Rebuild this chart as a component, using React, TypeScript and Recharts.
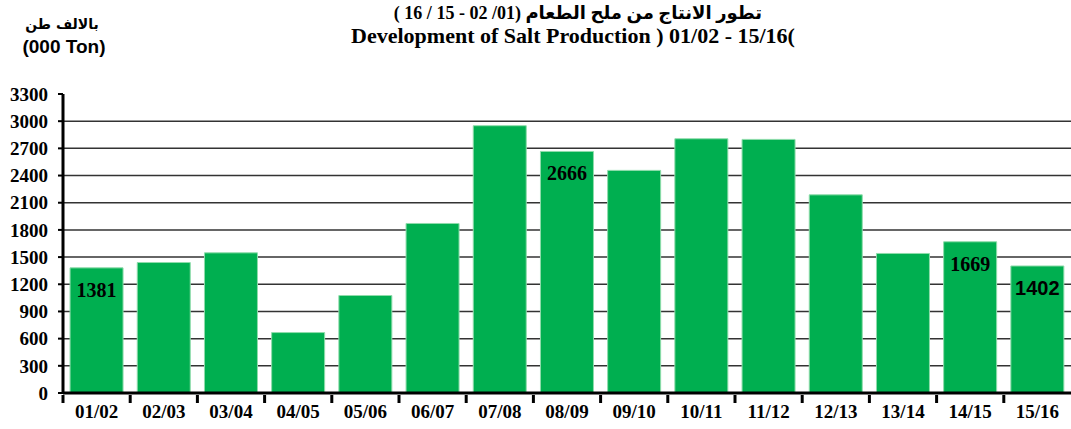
import React from 'react';
import { BarChart, Bar, XAxis, YAxis, CartesianGrid, LabelList } from 'recharts';

const periods = ['01/02', '02/03', '03/04', '04/05', '05/06', '06/07', '07/08', '08/09', '09/10', '10/11', '11/12', '12/13', '13/14', '14/15', '15/16'];
const production = [1381, 1440, 1547, 667, 1076, 1871, 2950, 2666, 2457, 2806, 2799, 2187, 1540, 1669, 1402];
const shownLabels = [1381, null, null, null, null, null, null, 2666, null, null, null, null, null, 1669, 1402];
const yTicks = [0, 300, 600, 900, 1200, 1500, 1800, 2100, 2400, 2700, 3000, 3300];
const gridValues = [300, 600, 900, 1200, 1500, 1800, 2100, 2400, 2700, 3000];

const titleAr = 'تطور الانتاج من ملح الطعام  (01/ 02 - 15 / 16 )';
const titleEn = 'Development of Salt Production ) 01/02 - 15/16(';
const unitAr = 'بالالف طن';
const unitEn = '(000 Ton)';

const data = periods.map((p, i) => ({ period: p, value: production[i], label: shownLabels[i] }));

const SERIF = "'Liberation Serif', 'Times New Roman', serif";
const SANS = "'Liberation Sans', Arial, sans-serif";

const XTick = (props: any) => {
  const { x, y, payload } = props;
  const half = payload.offset || 0;
  return (
    <g>
      <line x1={x - half} x2={x - half} y1={y - 6} y2={y + 2} stroke="#000" strokeWidth={3} />
      <text x={x} y={y + 17} textAnchor="middle" fontFamily={SERIF} fontWeight="bold" fontSize={19} fill="#000">
        {payload.value}
      </text>
    </g>
  );
};

const renderLabel = (props: any) => {
  const { x, y, width, value, index } = props;
  if (value === null || value === undefined) return null;
  const isLast = index === periods.length - 1;
  return (
    <text
      x={x + width / 2}
      y={y + 22}
      textAnchor="middle"
      dominantBaseline="central"
      fontFamily={isLast ? SANS : SERIF}
      fontWeight="bold"
      fontSize={20}
      fill="#000"
    >
      {value}
    </text>
  );
};

export default function App() {
  return (
    <div style={{ position: 'absolute', left: 0, top: 0, width: 1071, height: 429, background: '#fff', overflow: 'hidden' }}>
      <div style={{ position: 'absolute', left: 578, top: 3, transform: 'translateX(-50%)', whiteSpace: 'nowrap', direction: 'rtl', fontFamily: "'Liberation Serif', 'DejaVu Sans', serif", fontWeight: 'bold', fontSize: 18, lineHeight: '20px', color: '#000' }}>
        {titleAr}
      </div>
      <div style={{ position: 'absolute', left: 573, top: 26, transform: 'translateX(-50%)', whiteSpace: 'nowrap', fontFamily: SERIF, fontWeight: 'bold', fontSize: 22, lineHeight: '20px', color: '#000' }}>
        {titleEn}
      </div>
      <div style={{ position: 'absolute', left: 62, top: 14, transform: 'translateX(-50%)', whiteSpace: 'nowrap', direction: 'rtl', fontFamily: "'DejaVu Sans', sans-serif", fontWeight: 'bold', fontSize: 14, lineHeight: '20px', color: '#000' }}>
        {unitAr}
      </div>
      <div style={{ position: 'absolute', left: 64, top: 37, transform: 'translateX(-50%)', whiteSpace: 'nowrap', fontFamily: SANS, fontWeight: 'bold', fontSize: 19, lineHeight: '20px', color: '#000' }}>
        {unitEn}
      </div>
      <BarChart width={1071} height={429} data={data} margin={{ top: 94, right: 0, left: 3, bottom: 6 }} barCategoryGap="10.5%">
        <CartesianGrid vertical={false} horizontalValues={gridValues} stroke="#333" strokeWidth={1.5} />
        <XAxis
          dataKey="period"
          interval={0}
          height={30}
          tickLine={false}
          axisLine={{ stroke: '#000', strokeWidth: 3 }}
          tick={<XTick />}
        />
        <YAxis
          domain={[0, 3300]}
          ticks={yTicks}
          interval={0}
          width={60}
          tickSize={5}
          tickMargin={10}
          axisLine={{ stroke: '#000', strokeWidth: 3 }}
          tickLine={{ stroke: '#000', strokeWidth: 2 }}
          tick={{ fontFamily: SERIF, fontWeight: 'bold', fontSize: 19, fill: '#000' }}
        />
        <Bar dataKey="value" fill="#00AF50" stroke="#8FDCAB" strokeWidth={1} isAnimationActive={false}>
          <LabelList dataKey="label" content={renderLabel} />
        </Bar>
      </BarChart>
    </div>
  );
}
